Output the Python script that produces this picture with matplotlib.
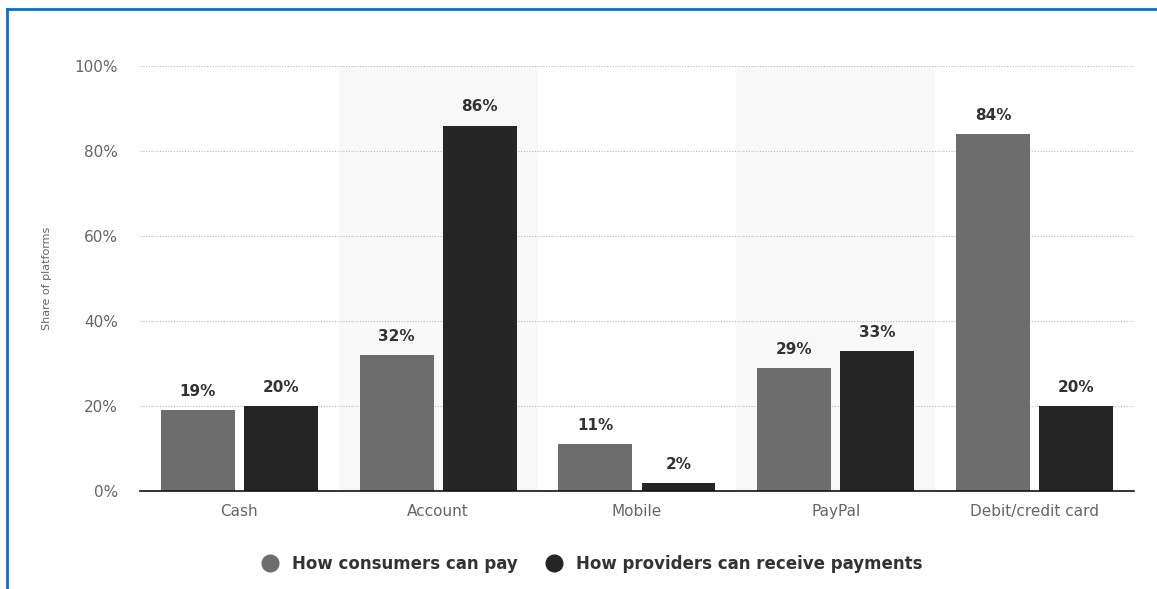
import matplotlib.pyplot as plt
import numpy as np
from matplotlib.lines import Line2D

categories = ["Cash", "Account", "Mobile", "PayPal", "Debit/credit card"]
consumers = [19, 32, 11, 29, 84]
providers = [20, 86, 2, 33, 20]
series_names = ["How consumers can pay", "How providers can receive payments"]
yticks = [0, 20, 40, 60, 80, 100]

grey = "#6d6d6d"
dark = "#252525"

fig = plt.figure(figsize=(11.57, 5.89), dpi=100)
ax = fig.add_axes([0.121, 0.166, 0.859, 0.722])

x = np.arange(len(categories))
w = 0.372
off = 0.209

# shaded bands behind every other category
for i in x:
    if i % 2 == 1:
        ax.axvspan(i - 0.5, i + 0.5, color="#f8f8f8", zorder=0, lw=0)

b1 = ax.bar(x - off, consumers, w, color=grey, zorder=3)
b2 = ax.bar(x + off, providers, w, color=dark, zorder=3)

for bars, vals in ((b1, consumers), (b2, providers)):
    for r, v in zip(bars, vals):
        ax.text(r.get_x() + r.get_width() / 2, v + 2.6, f"{v}%", ha="center",
                va="bottom", fontsize=11, fontweight="bold", color="#333333")

ax.set_xlim(-0.5, 4.5)
ax.set_ylim(0, 100)
ax.set_yticks(yticks)
ax.set_yticklabels([f"{t}%" for t in yticks])
ax.set_xticks(x)
ax.set_xticklabels(categories)
ax.tick_params(axis="both", length=0, colors="#666666", labelsize=11)
ax.tick_params(axis="y", pad=16)
ax.tick_params(axis="x", pad=9)
ax.yaxis.grid(True, linestyle=(0, (1, 1.5)), color="#bbbbbb", lw=0.8, zorder=1)
for s in ["top", "right", "left"]:
    ax.spines[s].set_visible(False)
ax.spines["bottom"].set_color("#111111")
ax.spines["bottom"].set_linewidth(1.2)
ax.spines["bottom"].set_zorder(4)
ax.set_ylabel("Share of platforms", fontsize=8, color="#666666", labelpad=16)

handles = [Line2D([], [], marker="o", ls="", ms=12, color=c) for c in (grey, dark)]
leg = fig.legend(handles, series_names, loc="center", bbox_to_anchor=(0.508, 0.042),
                 ncol=2, frameon=False, handletextpad=0.3, columnspacing=1.2,
                 prop={"weight": "bold", "size": 12})
for t in leg.get_texts():
    t.set_color("#333333")

# frame lines along top and left edges
fig.add_artist(Line2D([0.006, 1.0], [0.985, 0.985], color="#0a72c9", lw=2,
                      transform=fig.transFigure))
fig.add_artist(Line2D([0.006, 0.006], [0.0, 0.985], color="#0a72c9", lw=2,
                      transform=fig.transFigure))

fig.savefig("out.png", dpi=100)
